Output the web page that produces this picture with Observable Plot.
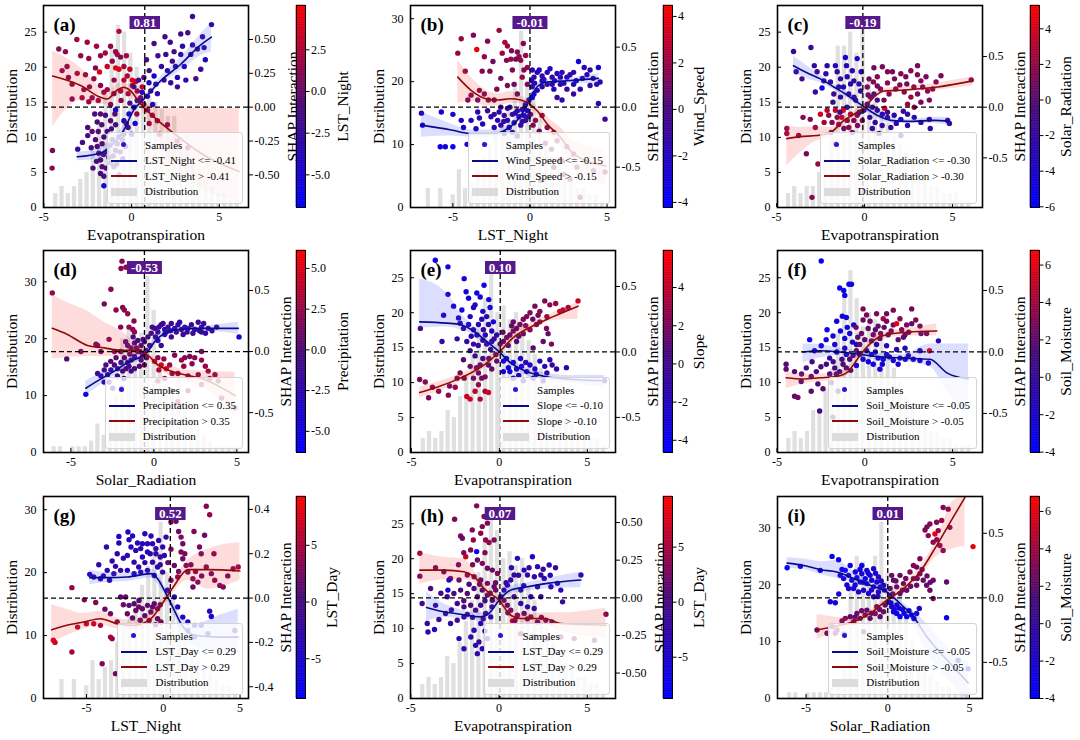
<!DOCTYPE html>
<html><head><meta charset="utf-8">
<script src="https://cdn.jsdelivr.net/npm/d3@7"></script>
<script src="https://cdn.jsdelivr.net/npm/@observablehq/plot@0.6"></script>
<style>
body{margin:0;background:#fff}
#root{position:relative;width:1080px;height:740px;background:#fff;overflow:hidden;font-family:"Liberation Serif","Times New Roman",serif}
.leg{position:absolute;background:rgba(255,255,255,0.8);border:1px solid #d4d4d4;border-radius:3px;padding:4px 6px 4px 3px;font:11px "Liberation Serif","Times New Roman",serif;color:#000}
.row{display:flex;align-items:center;height:15.5px;white-space:nowrap}
.h{width:26px;margin-right:8px;position:relative;height:15px;display:inline-block;flex:none}
.ln{position:absolute;left:0;right:0;top:7px;height:1.8px}
.bx{position:absolute;left:0;right:0;top:4px;height:8px;background:#dcdcdc}
.dot{position:absolute;left:10px;top:5px;width:5px;height:5px;border-radius:50%;background:#2a18d0}
</style>
</head><body><div id="root"></div>
<script>
// ---------------- DATA ----------------
const panelTags = ["(a)","(b)","(c)","(d)","(e)","(f)","(g)","(h)","(i)"];
const xLabels = ["Evapotranspiration","LST_Night","Evapotranspiration","Solar_Radiation","Evapotranspiration","Evapotranspiration","LST_Night","Evapotranspiration","Solar_Radiation"];
const colorLabels = ["LST_Night","Wind_Speed","Solar_Radiation","Precipitation","Slope","Soil_Moisture","LST_Day","LST_Day","Soil_Moisture"];
const thresholds = ["-0.41","-0.15","-0.30","0.35","-0.10","-0.05","0.29","0.29","-0.05"];
const badgeValues = ["0.81","-0.01","-0.19","-0.53","0.10",null,"0.52","0.07","0.01"];
const splitX = [0.75,0,-0.1,-0.57,0.05,null,0.46,0.05,0];
const xDomains = [[-5.02,6.66],[-7.75,5.55],[-4.95,6.7],[-6.65,5.7],[-5.05,6.6],[-4.97,6.7],[-7.8,5.55],[-5.02,6.6],[-6.75,5.8]];
const distDomains = [[0,28.8],[0,32.1],[0,28.8],[0,35.5],[0,28.9],[0,28.9],[0,32.1],[0,28.9],[0,35.5]];
const shapDomains = [[-0.741,0.751],[-0.836,0.847],[-0.99,1.004],[-0.826,0.827],[-0.768,0.775],[-0.818,0.825],[-0.453,0.458],[-0.669,0.673],[-0.78,0.785]];
const colorDomains = [[-6.96,5.16],[-4.22,4.47],[-6.04,5.31],[-6.3,6.1],[-4.64,5.94],[-4.02,6.78],[-8.5,9.3],[-8.75,9.6],[-4.0,6.8]];
const xTicks = [-5,0,5];
const distTicks = [[0,5,10,15,20,25],[0,10,20,30],[0,5,10,15,20,25],[0,10,20,30],[0,5,10,15,20,25],[0,5,10,15,20,25],[0,10,20,30],[0,5,10,15,20,25],[0,10,20,30]];
const shapTicks = [[-0.5,-0.25,0,0.25,0.5],[-0.5,0,0.5],[-0.5,0,0.5],[-0.5,0,0.5],[-0.5,0,0.5],[-0.5,0,0.5],[-0.4,-0.2,0,0.2,0.4],[-0.5,-0.25,0,0.25,0.5],[-0.5,0,0.5]];
const shapDecimals = [2,1,1,1,1,1,1,2,1];
const colorTicks = [[-5,-2.5,0,2.5],[-4,-2,0,2,4],[-6,-4,-2,0,2,4],[-5,-2.5,0,2.5,5],[-4,-2,0,2,4],[-4,-2,0,2,4,6],[-5,0,5],[-5,0,5],[-4,-2,0,2,4,6]];
const colorDecimals = [1,0,0,1,0,0,0,0,0];
const histRanges = [[-4.5,6.2],[-7.2,4.9],[-4.5,6.1],[-6.2,5.1],[-4.5,6.1],[-4.5,6.1],[-7.2,4.9],[-4.5,6.1],[-6.2,5.1]];
const histA = [2,3,2,3,4,5,8,12,16,23,26,25,22,20,18,16,15,14,13,13,10,8,6,5,4,3,2,2,1,1];
const histB = [0,3,0,3,0,2,6,3,4,6,8,10,12,14,16,20,28,20,18,14,10,8,6,5,4,3,3,2,2,1];
const histC = [2,3,2,3,3,5,7,10,23,23,25,22,26,18,15,14,12,10,9,8,6,5,4,3,3,2,2,2,1,1];
const histD = [1,1,0,1,1,1,2,5,3,6,10,20,22,18,21,31,25,14,12,10,13,8,6,4,3,2,1,1,1,1];
const histE = [2,3,2,3,6,5,8,11,14,18,22,26,20,21,19,20,19,16,14,12,10,8,6,5,4,3,3,2,2,1];
const histF = [2,3,2,3,6,6,9,12,17,23,26,22,18,20,19,16,14,12,10,8,6,5,4,3,3,2,2,1,1,1];
const histG = [0,3,0,3,0,2,6,3,5,6,9,11,13,16,18,21,24,28,20,16,12,10,8,6,5,4,3,2,2,1];
const histH = [2,3,2,3,6,5,8,11,14,18,23,26,24,20,21,19,20,16,14,12,10,8,6,5,4,3,3,2,2,1];
const histI = [1,1,0,1,1,1,1,2,3,5,20,25,24,22,25,31,22,20,18,14,10,8,6,4,3,2,2,1,1,1];

// samples: [x, SHAP interaction, colour feature value]
const pointsA = [[-4.15,.43,1.5],[-3.77,.41,1.5],[-3.12,.5,2],[-2.53,.48,2],[-.72,.56,2.5],[-3.96,.27,1.5],[-3.68,.3,1],[-3.1,.25,2],[-2.63,.24,1.5],[-2.44,.36,2],[-1.77,.38,1.5],[-1.83,.26,4],[-1.39,.3,3.5],[-.91,.41,1.5],[-.82,.39,2],[-1.1,.34,1.5],[-.63,.37,1],[-.44,.3,2],[-.91,.29,4],[-.72,.28,4],[-.25,.23,2.5],[.04,.2,4],[.23,.19,3],[.04,.16,2],[-.44,.2,3],[-2.06,.29,1],[-2.15,.21,1.5],[-3.39,.17,1],[-2.72,.13,1.5],[-3.39,.06,1],[-2.82,.07,2],[-2.25,.07,1],[-2.44,.04,1.5],[-1.77,.16,1],[-1.58,.11,1.5],[-1.39,.13,2],[-1.01,.1,1],[-.63,.12,2],[.32,.12,2],[.51,.07,1.5],[.7,.02,2],[.9,-.02,1],[1.18,-.06,1.5],[1.47,-.1,1],[2.04,-.13,1],[-4.51,-.32,1],[-4.53,-.45,1.5],[-1.2,.45,1.5],[-1.5,.4,2],[-.2,.1,2],[.3,-.05,2],[-.6,.05,1.5],
[-2.5,-.15,-1],[-2.5,-.21,-1.5],[-3.07,-.31,-2.5],[-2.25,-.18,0],[-2.06,-.24,-.5],[-1.96,-.29,-1],[-1.87,-.34,0],[-1.77,-.39,-1],[-1.68,-.44,-.5],[-1.77,-.49,-1.5],[-1.58,-.51,-1],[-1.39,-.33,-.5],[-1.3,-.37,-1],[-1.2,-.41,-2],[-1.01,-.44,-1],[-.91,-.32,-1.5],[-.82,-.27,-1],[-.72,-.22,-2],[-.91,-.13,-1],[-1.2,-.1,-.5],[-1.49,-.06,-1],[-1.77,-.05,-.5],[-1.96,-.11,-1],[-1.39,-.18,-1.5],[-1.58,-.22,-1],[-1.68,-.27,-.5],[-1.1,-.24,-1],[-.53,-.24,-2],[-.34,-.29,-2.5],[-1.58,-.58,-5],[-2.2,-.45,-1],[-.7,-.5,-1.5],[-.5,-.38,-2],[-2.8,-.26,-1.5],
[-.91,-.02,-5],[-.44,-.1,-4],[-.15,-.05,-4.5],[.13,0,-5],[.32,.05,-4],[.51,.05,-3.5],[.6,.11,-4],[.99,.18,-4.5],[1.28,.23,-5],[.2,-.12,-5],[0,-.2,-3],[-.2,-.15,-2],
[1.28,.47,-1],[1.95,.39,-2],[2.42,.41,-1],[2.8,.54,-1.5],[3.47,.67,-2],[4.55,.61,-3],[4.04,.52,-2],[3.47,.46,-2.5],[3.75,.43,-1],[4.13,.44,-3],[3.37,.39,-2],[2.8,.39,-3],[2.32,.34,-1.5],[2.04,.27,-3.5],[1.85,.2,-2],[2.61,.22,-4],[3.09,.2,-3],[3.66,.21,-1],[3.94,.28,-2],[2.23,.18,-3],[2.61,.15,-2],[1.38,.17,-2],[1.09,.12,-1.5],[1.47,.1,-3],[1,.27,-1],[.7,.22,-1],[.13,.15,-1],[1.7,.3,-2.5],[3,.3,-4],[4.2,.35,-4],[2.9,.45,-3],[2.2,.48,-2],
[-2.3,-.3,-1],[-2,-.4,-1.5],[-1.9,-.18,-.5],[-1.6,-.35,-1],[-1.45,-.45,-1.5],[-1.25,-.28,-1],[-1.05,-.36,-.5],[-.85,-.42,-1.5],[-.65,-.33,-1],[-.45,-.2,-1.5],[-.3,-.12,-1],[-1.15,-.16,-1],[-1.7,-.13,-.5],[-2.1,-.05,-1],[-.95,-.05,-.5],[-.1,.03,-1],[.4,.2,-1.5],[.85,.35,-1],[1.5,.38,-2],[1.9,.52,-1.5],[2.5,.3,-2.5],[3.2,.55,-1.5],[.9,.08,-3.5],[1.2,.02,-4],
[-2.9,.38,1.5],[-2,.45,2],[-1,.2,1.5],[-.3,.38,2],[-3.6,.22,1],[-2.4,.15,1],[-1.9,.05,1.5],[-1.2,.02,1],[.6,.15,2.5],[-.1,.28,3],[1,-.12,1.5],[1.6,-.2,1],[2.6,-.25,1.5],[3.2,-.3,1]];
const pointsB = [[-4.68,.45,2],[-4.46,.57,2],[-3.67,.6,1.5],[-3.45,.48,4],[-2.96,.42,2],[-2.75,.55,1.5],[-2,.64,2],[-1.63,.54,2.5],[-1.46,.51,2],[-.82,.46,1.5],[-.71,.42,2],[-.43,.53,1.5],[-.28,.43,2],[-.17,.33,2],[-.39,.31,1.5],[-.6,.39,2],[-.92,.4,1],[-1.24,.4,2],[-1.52,.39,1.5],[-1.14,.31,1.5],[-1.89,.24,1],[-2.15,.15,1.5],[-2.96,.11,1],[-2.7,.06,1.5],[-2.32,.06,1],[-3.39,.06,1],[-3.82,.1,1.5],[-4.03,.06,1],[-3.28,.14,1.5],[-.82,.11,1],[-.17,.19,1.5],[-1.03,.19,1],[-1.46,.18,1.5],[.04,-.06,1.5],[.36,-.11,2],[.79,-.07,1.5],[1.12,-.17,1],[1.55,-.21,2],[1.76,-.28,1.5],[2.4,-.33,1],[2.83,-.39,1.5],[1.97,-.44,2],[3.05,-.5,1.5],[4.12,-.53,1],[4.87,-.54,1.5],[1.55,-.5,1],[2.19,-.56,1.5],[.69,-.61,1],[3.26,-.75,1.5],
[-7.04,-.05,-2],[-6.97,-.15,-3],[-5.82,-.33,-3.5],[-5.49,-.33,-3],[-5,-.33,-3.5],[-5.75,-.04,-3],[-5,-.06,-2.5],[-4.46,-.11,-2],[-4.31,-.17,-3],[-4.08,-.31,-2.5],[-3.82,-.11,-2],[-3.5,-.18,-2.5],[-3.28,-.09,-1.5],[-3.07,-.14,-2],[-2.92,-.31,-1],[-2.53,-.08,-1.5],[-2.32,-.06,-1],[-2.1,-.11,-2],[-1.89,-.15,-1.5],[-1.67,-.07,-1],[-1.46,-.11,-2],[-1.35,-.17,-1.5],[-1.14,-.06,-1],[-1.03,-.13,-1.5],[-.82,-.03,-1],[-.71,-.08,-2],[-.6,-.15,-1],[-.39,-.07,-1.5],[-.28,-.11,-1],[-.17,-.03,-2],[-.06,.06,-1.5],[-1.89,0,-1],[-1.46,-.01,-1.5],[-2.75,-.03,-1],[-3.39,-.04,-2],[-2.32,-.17,-1.5],[-1.14,-.21,-1],[-1.67,-.22,-1.5],[-.82,-.24,-1],
[.15,.31,-2],[.26,.25,-1.5],[.47,.29,-2],[.79,.26,-1.5],[1.12,.29,-2],[1.44,.25,-1],[1.76,.28,-2],[2.08,.29,-1.5],[2.4,.25,-2],[2.83,.29,-1.5],[3.15,.38,-3],[3.52,.33,-2],[3.9,.31,-1.5],[4.44,.33,-3],[4.55,.21,-2],[4.33,.19,-1.5],[3.9,.18,-1],[3.26,.15,-1.5],[2.83,.19,-2],[2.4,.15,-1],[1.97,.19,-1.5],[1.55,.15,-2],[1.12,.19,-1],[.79,.17,-1.5],[.47,.14,-2],[.15,.17,-1.5],[.26,.11,-2.5],[.15,.08,-3.5],[1.76,.08,-1],[2.08,.06,-1.5],[2.83,.11,-1],[4.87,-.1,-1],[4.44,.03,-1.5],[.79,.22,-2],[1.44,.19,-1.5],[1.97,.25,-2],
[-1.3,0,-1],[-.95,-.05,-1.5],[-.5,-.02,-1],[-.3,.02,-2],[-.1,-.08,-1.5],[-1.7,-.12,-1],[-2,-.04,-1.5],[-.5,-.12,-1],[.1,.22,-2],[.3,.2,-1.5],[.6,.31,-2],[.9,.23,-1.5],[1.3,.32,-2],[1.6,.22,-1.5],[2.2,.2,-2],[2.6,.27,-1.5],[3,.22,-2],[3.4,.24,-1.5],[3.7,.27,-2],[4.1,.24,-1],[-2.6,.3,1.5],[-1.8,.45,2],[-1.2,.47,1.5],[-.5,.25,2],[-2.4,.38,1],[-3.1,.3,1.5],[-4.2,.3,2],[.2,-.15,1.5],[.6,-.2,1],[1,-.3,1.5],[1.4,-.35,1],[2.1,-.45,1.5],[2.6,-.6,1]];
const pointsC = [[-4.04,.55,-2],[-3.05,.59,-1.5],[-3.89,.35,-2],[-3.56,.28,-1],[-2.86,.41,-2],[-2.7,.35,-1.5],[-2.42,.19,-5],[-2.13,.41,-2.5],[-1.66,.41,-3],[-1.56,.35,-2],[-1.09,.49,-4.5],[-1.03,.41,-3],[-1.37,.28,-2],[-.99,.3,-2.5],[-.7,.36,-3],[-.42,.48,-4],[-.61,.26,-2],[-.32,.23,-2.5],[-.23,.16,-2],[-1.47,.2,-1.5],[-1.94,.25,-2],[-2.32,.26,-1.5],[-.9,.13,-2],[-.51,.07,-1],[-1.75,.13,-1.5],[-1.37,.1,-2],
[-4.42,-.21,2],[-4.42,-.26,2.5],[-3.75,-.28,1.5],[-3.31,-.46,1],[-3.09,-.12,1.5],[-2.99,-.89,1.5],[-2.65,-.56,2],[-2.51,-.07,4],[-2.13,-.03,3],[-2.04,-.08,2],[-1.85,-.15,1.5],[-1.66,-.03,3.5],[-1.56,-.1,2],[-1.22,-.03,4.5],[-1.47,-.17,1.5],[-1.18,-.21,1],[-1.66,-.36,.5],[-.99,-.13,2],[-.8,-.07,2.5],[-.61,-.13,1.5],[-.42,-.08,2],[-.13,-.13,1.5],[-.7,-.25,1],
[-.04,-.03,-1],[.15,.03,-1.5],[.34,.1,-1],[.53,.13,-.5],[.72,.07,-1],[.44,0,-1.5],[.72,-.03,-2],[1.01,-.07,-2.5],[1.3,-.1,-2],[1.68,-.08,-2.5],[2.06,-.12,-3],[2.44,-.07,-2],[2.82,-.1,-2.5],[3.2,-.15,-2],[3.68,-.12,-2.5],[3.73,-.21,-2],[4.72,-.13,-2.5],[4.82,-.16,-2],[2.06,-.28,-1.5],[.44,-.21,-2],[.82,-.26,-1.5],[1.49,-.2,-2],[2.44,-.18,-2.5],
[.53,.39,1],[.72,.3,1.5],[1.01,.4,1],[1.3,.35,1.5],[1.58,.35,1],[2.06,.33,1.5],[2.34,.3,1],[2.63,.36,1.5],[3.01,.41,1],[3.2,.26,1.5],[3.49,.3,1],[3.87,.18,2],[4.06,.25,1.5],[4.34,.31,1],[6.06,.27,1.5],[3.58,.16,1.5],[3.01,.13,1],[2.63,.1,2],[2.25,.15,1.5],[1.77,.18,1],[1.39,.13,1.5],[1.1,.07,1],[1.14,-.01,4.5],[2.44,.03,2],[2.82,0,1.5],[3.2,.05,1],[3.68,.07,1.5],[.72,.21,1],[.15,.2,1.5],[.25,.28,1],
[-1.8,.05,-1.5],[-1.4,-.05,-1],[-1,0,-1.5],[-.6,.1,-2],[-.3,-.05,-1.5],[.3,-.1,-2],[.6,-.15,-2.5],[1,-.18,-2],[1.3,-.05,-1.5],[1.8,-.16,-2.5],[2.2,-.04,-2],[-2.8,.15,-2],[-2.2,.33,-2.5],[-1.2,.2,-3],[-.8,.23,-2.5],[-.2,.35,-3],[.2,.12,1],[.5,.25,1.5],[.9,.18,1],[1.3,.24,1.5],[1.7,.28,1],[2,.22,1.5],[2.4,.23,1],[2.8,.2,1.5],[3.3,.2,1],[3,.32,1.5],[-2.3,-.15,2.5],[-1.9,-.25,1.5],[-1.3,-.1,3],[-.9,-.2,2],[-.4,-.18,1.5],[-2.8,-.2,2],[-3.5,-.1,1.5]];
const pointsD = [[-6.12,.48,2.5],[-1.92,.74,2],[-1.68,.69,2.5],[-1.98,.68,2],[-2.59,.51,2],[-2.99,.39,1.5],[-2.28,.34,2.5],[-1.88,.36,2],[-1.78,.34,2],[-1.58,.31,2.5],[-1.27,.18,2],[-1.17,.16,2.5],[-3.49,.06,1.5],[-3.19,0,1],[-2.38,0,1.5],[-4.4,0,1],[-5.25,-.06,0],[-3.39,.05,1],
[-1.58,.05,0],[-1.37,.03,.5],[-1.17,.07,0],[-.97,.09,-.5],[-.77,.05,.5],[-.57,.08,0],[-.36,.12,-.5],[-.16,.15,0],[-.97,0,1],[-1.17,-.04,0],[-1.37,-.07,-.5],[-1.58,-.09,0],[-1.78,-.05,.5],[-1.98,-.09,-.5],[-2.18,-.14,-1],[-2.38,-.11,0],[-2.59,-.15,-1],[-2.79,-.19,-1.5],[-2.99,-.15,-.5],[-3.19,-.2,-2],[-3.39,-.18,-1],[-2.89,-.11,0],[-2.28,-.05,.5],[-.67,-.03,1],[-.46,.01,0],[-.77,-.07,.5],[-.57,-.11,1],[-.87,-.12,0],[-1.88,-.16,-.5],[-1.68,-.14,0],[-1.37,-.16,-1],[-1.17,-.14,0],[-2.48,-.3,-3],[-1.94,-.3,-5],[-4.1,-.35,-5],
[.04,.19,-1],[.24,.16,-1.5],[.44,.22,-1],[.65,.18,-2],[.85,.2,-1.5],[1.05,.23,-1],[1.25,.19,-2],[1.45,.22,-1.5],[1.66,.18,-1],[1.86,.2,-2],[2.06,.19,-1.5],[2.26,.22,-1],[2.46,.18,-2],[2.67,.24,-1.5],[2.87,.2,-1],[3.11,.15,-2],[3.27,.19,-1.5],[3.78,.2,-1],[5.13,.12,-4],[.65,.14,-1.5],[1.05,.12,-1],[.24,.09,-2],[.44,.05,-1],[1.76,.14,-1.5],[2.87,.16,-2],
[.04,-.08,4],[.24,-.05,2],[.44,-.11,4],[.75,-.14,5],[.95,-.11,2.5],[1.25,-.03,2],[1.66,-.07,2.5],[1.86,-.05,2],[2.16,-.04,1.5],[2.46,-.05,2],[2.87,-.07,2.5],[2.87,0,1.5],[.24,-.24,3],[.65,-.22,2.5],[1.45,-.18,2],[2.06,-.2,2.5],[2.67,-.19,2],[3.27,-.16,2.5],[3.68,-.19,2],[3.37,-.22,2.5],[3.88,-.24,2],[2.87,-.27,2.5],[2.06,-.32,2],[1.45,-.41,2.5],[4.08,-.38,2],[4.89,-.46,2.5],[1.05,-.32,2],
[-2,0,.5],[-1.7,.08,0],[-1.45,-.02,.5],[-1.25,.12,0],[-1.05,.03,.5],[-.85,0,0],[-.65,.1,-.5],[-.45,-.05,.5],[-.25,.05,0],[-.1,.2,-1],[.1,.12,-1.5],[.3,.2,-1],[.55,.23,-1.5],[.75,.16,-2],[1,.17,-1.5],[1.35,.16,-1],[1.55,.24,-2],[2,.16,-1.5],[2.35,.15,-1],[2.75,.17,-1.5],[3,.23,-1],[3.5,.17,-1.5],[-2.6,-.08,0],[-2.2,-.2,-1],[-1.8,-.22,-1.5],[-1.5,-.12,-.5],[-2.7,-.25,-2],[-3,-.25,-2.5],[-1.2,.25,2],[-1.5,.2,2.5],[.3,-.15,3],[.6,-.06,2.5],[1.1,-.18,2],[1.8,-.12,2.5],[2.3,-.1,2],[3.1,-.12,2.5],[-2.7,.1,1.5],[-2,.2,2]];
const pointsE = [[-3.64,.7,-3.5],[-2.92,.65,-3],[-2.92,.44,-2.5],[-4.49,.18,0],[-3.17,.28,-2],[-3.26,.08,-1],[-2.32,.26,-2],[-2.13,.32,-3],[-2,.56,-3.5],[-1.89,.46,-3],[-1.75,.41,-3.5],[-1.47,.34,-2.5],[-1.28,.45,-3.5],[-1.09,.42,-3],[-.87,.51,-3.5],[-1.38,.36,-2],[-.94,.31,-2.5],[-.72,.27,-2],[-.53,.34,-3],[-1.66,.27,-2],[-2.23,.22,-1.5],[-2.04,.18,-1],[-1.75,.21,-2],[-1.47,.17,-1.5],[-1.19,.21,-2],[-.91,.17,-1],[-.62,.21,-1.5],[-.43,.16,-2],[-.34,.23,-3],[-.15,.13,-1.5],[-1.28,.13,-1],[-.94,.09,-.5],[-.72,.06,-1],[-.43,.08,-1.5],[-1.47,.06,-.5],[-1.85,.08,-1],[-1.66,.01,0],[-1.38,-.03,-.5],[-.94,-.05,0],
[-4.53,-.21,2],[-4.21,-.23,2.5],[-4.02,-.35,2],[-3.45,-.3,2.5],[-2.83,-.26,2],[-2.51,-.27,3],[-2.23,-.16,2],[-2,-.2,2.5],[-1.85,-.34,4.5],[-1.66,-.36,4.5],[-1.38,-.3,4],[-1.19,-.25,3],[-1.09,-.36,3.5],[-.81,-.3,3],[-.62,-.31,4.5],[-1.47,-.2,2],[-1.19,-.16,1.5],[-.81,-.19,2],[-.43,-.13,1.5],[-.62,-.1,1],[-.15,-.07,1.5],[-1.09,-.1,1],[-1.66,-.11,1.5],[-2.04,-.06,1],
[.04,.06,1.5],[.23,.08,1],[.42,.11,2],[.6,.13,1.5],[.79,.16,2],[.98,.18,1.5],[1.17,.21,2],[1.36,.25,2.5],[1.55,.27,2],[1.74,.3,2.5],[2.02,.35,2],[2.3,.31,2.5],[2.58,.39,2],[2.87,.36,2.5],[3.43,.31,4],[3.62,.32,3.5],[3.91,.34,3],[4.47,.39,4.5],[1.36,.14,1.5],[1.74,.17,2],[2.11,.21,1.5],[2.68,.18,2],[2.77,.14,1.5],[2.96,.06,2],[2.49,.08,1.5],[1.92,.03,1],[.98,.08,1],[.79,.23,1.5],[2.3,.23,2],
[.23,-.07,-3],[.51,-.12,-3.5],[.79,-.08,-3],[.98,-.13,-2.5],[1.26,-.11,-3],[1.55,-.15,-2],[1.74,-.1,-2.5],[2.02,-.13,-2],[2.3,-.07,-1.5],[2.58,-.11,-2],[2.87,-.06,-1.5],[3.25,-.13,-1],[3.81,-.12,-1.5],[5.98,-.22,0],[.79,-.2,-2.5],[1.36,-.22,-2],[1.92,-.2,-1.5],[2.49,-.22,-1],[.23,-.15,-3.5],
[-1.2,.05,-1],[-.8,.13,-1.5],[-.5,.02,-.5],[-.3,.1,-1],[-1.6,.12,-1.5],[-2.4,.1,-1],[-1,.25,-2],[-.6,.4,-3],[-2.6,.35,-2.5],[-.2,-.02,0],[-.6,-.05,1],[-1,-.2,2],[-1.3,-.12,1.5],[-2.4,-.2,2],[-2.9,-.33,2.5],[-3.8,-.27,2],[.2,.15,1.5],[.5,.05,1],[.7,.2,1.5],[1.1,.12,1],[1.5,.2,2],[1.9,.25,1.5],[2.2,.28,2],[2.7,.27,2.5],[3.2,.37,3],[.4,-.05,-3],[.6,-.15,-3],[1.1,-.18,-2.5],[1.5,-.08,-2],[2.1,-.17,-2],[2.7,-.16,-1.5],[3,-.1,-1],[1.2,-.05,-2.5]];
const pointsF = [[-2.48,.74,-3.5],[-1.43,.52,-3],[-1.2,.5,-3.5],[-1.14,.46,-3],[-.9,.55,-3.5],[-.76,.55,-3],[-1.28,.29,-3],[-1.05,.28,-2.5],[-.63,.22,-3],[-2.15,.18,-3],[-1.39,.17,-2.5],[-.86,.15,-2],[-3.14,.1,-3],[-1.81,.13,-2],[-1.14,.11,-2.5],[-1.71,.06,-2],[-2.48,.05,-2.5],[-2.86,.01,-2],[-1.14,.03,-1.5],[.1,.01,-1.5],[.38,-.02,-2],[.76,-.05,-2.5],[1.05,-.06,-2],[1.24,-.02,-1.5],[1.62,-.07,-2],[2,-.05,-2.5],[2.48,-.03,-1.5],[2.76,-.06,-2],[3.14,-.07,-2.5],[3.62,-.09,-2],[4.19,.09,-1.5],[.48,-.1,-3],[.86,-.14,-2.5],[-.1,-.06,-2],[.67,.06,-1],[1.24,.05,-1.5],[1.81,.02,-1],[2.29,.03,-1.5],[3.14,.01,-1],[-1.05,-.02,-1.5],[-.48,-.11,-2.5],[-.48,.06,-1],
[-4.48,-.1,1.5],[-4.48,-.14,2],[-4,-.16,1.5],[-4,-.36,2],[-3.81,-.37,2.5],[-3.62,-.24,1.5],[-3.33,-.13,1],[-3.05,-.2,1.5],[-3.05,-.32,2],[-2.76,-.16,1],[-2.67,-.26,1.5],[-2.57,-.48,1],[-2.38,-.3,2],[-2.19,-.1,.5],[-2,-.18,1],[-1.9,-.25,1.5],[-1.71,-.13,1],[-1.62,-.18,1.5],[-1.43,-.16,1],[-1.24,-.1,1.5],[-1.05,-.13,2],[-.86,-.06,1.5],[-.67,-.03,2],[-.48,.01,2.5],[-.29,.06,2],[-.19,.15,2.5],[-.1,.35,3],[-.1,.26,2.5],[.19,.19,2],[.48,.14,2.5],[.76,.21,2],[1.05,.27,4],[1.24,.25,3],[1.62,.22,2.5],[1.81,.23,6],[2.1,.18,2.5],[2.38,.22,3],[2.67,.35,2.5],[2.67,.23,2],[3.14,.21,2.5],[3.52,.15,2],[3.68,.01,6],[.38,.09,1.5],[.86,.11,2],[1.33,.14,1.5],[1.9,.1,2],[2.29,.14,1.5],[.67,.31,3],[1.24,.31,2.5],[1.62,.34,3],[-1.52,-.32,1.5],[-1.81,-.53,1],
[-1,.2,-3],[-1.6,.25,-3],[-.7,.08,-2],[-.3,-.02,-2],[.2,-.08,-2.5],[.6,0,-1.5],[1,-.1,-2.5],[1.4,-.04,-2],[1.9,-.1,-2],[2.3,-.06,-1.5],[-2.2,.1,-2.5],[-1.6,0,-2],[-2,-.05,-1],[-1.3,-.06,1],[-.8,-.15,1.5],[-1.8,-.08,1],[-2.5,-.12,1.5],[-3,-.08,1],[-3.6,-.18,2],[-.4,.12,2],[0,.1,2],[.3,.25,2.5],[.6,.18,2],[.9,.15,2.5],[1.1,.2,2],[1.5,.17,2.5],[2,.27,3],[2.2,.12,2],[2.5,.16,2.5],[2.9,.26,3],[3.2,.15,2],[.1,.3,3],[-.5,.2,2.5]];
const pointsG = [[-4.79,.107,-4],[-4.53,.095,-3],[-4.09,.087,-3.5],[-3.7,.23,-3],[-3.33,.167,-2],[-3.11,.143,-3],[-2.89,.278,-6],[-2.89,.248,-4],[-2.3,.298,-4],[-2.23,.263,-3],[-2.34,.192,-2],[-1.79,.215,-3],[-1.68,.248,-4],[-1.47,.223,-3],[-1.36,.245,-4],[-1.03,.245,-3],[-.7,.245,-4],[-.48,.223,-3],[-.48,.2,-2],[-1.03,.208,-3],[-1.36,.185,-4],[-1.9,.162,-3],[-2.78,.125,-2],[-3.65,.125,-3],[-3.22,.11,-2],[-2.34,.125,-3],[-1.9,.11,-4],[-1.47,.117,-3],[-1.03,.125,-2],[-.7,.162,-3],[-.2,.185,-2],[.07,.192,-3],[-.37,.14,-4],[-.59,.102,-3],[-.04,.117,-2],[.18,.275,-2],[-.04,.23,-3],[.28,.035,-4],[.72,.005,-3],[.94,-.04,-4],[1.27,-.086,-5],[1.6,-.108,-4],[2.04,-.123,-3],[2.47,-.123,-4],[3.13,-.083,-5],[3.02,-.059,-4],[1.6,-.146,-3],[2.91,-.161,-2],[2.04,-.176,-3],[4.66,-.146,-2],
[-7.16,-.19,8],[-7.05,-.2,7],[-5.95,-.243,5],[-5.95,.047,4],[-5.58,-.131,6],[-5.01,-.116,6],[-5.14,-.008,3],[-4.53,-.116,6],[-4.09,-.123,5],[-3.98,-.296,3],[-3.44,-.176,5],[-3.33,-.183,4],[-3.11,-.341,2],[-3.44,-.071,2],[-3,-.108,3],[-2.78,.005,1],[-2.45,.005,2],[-2.23,-.033,1],[-2.34,-.071,2],[-1.9,-.026,1],[-1.79,-.056,2],[-1.58,-.011,1],[-1.36,-.048,2],[-1.03,-.033,1],[-.81,-.063,2],[-.59,-.026,1],[-.37,-.048,2],[-.92,-.101,3],[-.37,-.093,2],[-.15,-.108,3],
[.5,.343,3],[.83,.346,2],[1.16,.275,3],[1.27,.245,2],[1.16,.208,3],[1.27,.177,2],[1.49,.147,3],[1.6,.117,2],[1.93,.087,3],[2.25,.072,2],[2.8,.414,3],[3.02,.376,4],[2.69,.283,2],[2.36,.23,3],[2.47,.2,2],[2.8,.14,3],[3.13,.11,2],[3.35,.08,3],[3.68,.057,2],[3.9,.05,3],[4.88,.14,4],[4.55,.132,3],[.72,.147,2],[.94,.095,3],[.5,.08,2],[1.93,.05,2],
[-4.2,.15,-3],[-3.9,.1,-2.5],[-3.5,.08,-3],[-3,.2,-3.5],[-2.6,.18,-3],[-2.1,.23,-4],[-1.6,.14,-3],[-1.2,.16,-3.5],[-.85,.2,-4],[-.3,.26,-3],[-.2,.15,-2],[-2,.28,-4],[-1.2,.29,-4],[-.8,.28,-3],[-2.6,-.03,2],[-2,-.09,1.5],[-1.6,-.04,2],[-1.2,-.08,1],[-.7,-.04,2],[-.2,-.03,1],[-.5,-.12,3],[-1.5,-.1,2],[-3.8,-.05,2],[-4.4,-.02,3],[1,.12,2],[1.4,.2,3],[1.8,.15,2],[2.1,.12,3],[2.5,.1,2],[2,.3,3],[1,.3,2],[3.3,.2,3],[4.2,.1,2],[.3,.16,2],[.5,.22,3]];
const pointsH = [[-4.49,.296,5],[-4.49,.144,3],[-2.52,.522,3],[-2.18,.411,3],[-2.08,.396,2],[-1.89,.273,7],[-1.52,.451,3],[-1.46,.384,4],[-1.27,.611,3],[-1.04,.429,4],[-.95,.473,3],[-.85,.54,3],[-.76,.384,4],[-.66,.496,3],[-.57,.367,4],[-.28,.384,3],[-1.61,.318,3],[-1.23,.251,2],[-.95,.229,3],[-.66,.196,2],[-.38,.184,2],[-.09,.162,3],[-3.13,.173,2],[-2.75,.129,3],[-2.27,.118,2],[-1.8,.151,3],[-1.42,.14,2],[-1.04,.118,2],[-.66,.096,3],[-.28,.073,2],[-.19,.051,2],
[.28,-.016,3],[.47,-.049,2],[.66,-.082,3],[.76,-.153,7],[1.04,-.116,3],[1.42,-.104,2],[1.8,-.127,3],[2.18,-.16,2],[2.65,-.149,3],[6.06,-.109,3],[1.23,-.238,3],[1.99,-.26,2],[2.75,-.271,3],[3.5,-.26,2],[4.26,-.271,3],[5.4,-.282,2],
[-2.18,.051,0],[-1.8,.029,1],[-1.42,.062,0],[-1.23,.007,1],[-.95,.051,0],[-.66,.018,1],[-.38,-.016,0],[-2.94,.007,-1],[-2.56,.029,0],[-2.37,-.038,-1],[-1.99,-.06,0],[-1.61,-.049,1],[-1.33,-.082,0],[-1.04,-.049,-1],[-.76,-.104,0],[-2.37,-.149,-1],[-1.99,-.127,-2],[-3.03,-.104,-1],[-2.75,-.171,-2],[-3.41,-.144,-1],[-4.07,-.171,-2],[-4.36,-.038,-1],[-3.88,.062,0],
[-4.03,-.227,-3],[-3.66,-.211,-4],[-2.9,.051,-6],[-2.84,.118,-5],[-1.27,.307,-7],[-2.27,-.271,-4],[-1.99,-.338,-3],[-1.33,-.316,-4],[-1.23,-.371,-3],[-.95,-.338,-4],[-.66,-.271,-3],[-1.14,-.293,-2],[-1.42,-.216,-3],[-1.04,-.171,-4],[-.47,-.127,-3],
[.09,.007,-3],[.28,.051,-2],[.47,.084,-4],[.66,.118,-3],[.85,.151,-2],[1.04,.262,-3],[1.42,.184,-4],[1.61,.151,-3],[1.89,.273,-5],[2.18,.207,-3],[2.37,.151,-2],[2.56,.129,-3],[2.84,.218,-4],[2.94,.073,-3],[3.31,.096,-2],[3.5,.051,-3],[3.6,-.027,-2],[4.64,.151,-3],[1.23,.051,-2],[1.8,.007,-3],[2.18,.073,-2],[.85,.007,-1],[1.23,-.038,-2],[1.61,-.06,-3],[2.37,.007,-2],[1.99,-.071,-1],
[-3.6,-.05,-1],[-3.3,.03,0],[-2,-.02,1],[-1.7,.09,0],[-1.1,.09,1],[-.8,-.02,0],[-.5,.03,1],[-.2,.1,2],[-2.7,-.08,-1],[-1.8,-.11,0],[-1.5,-.13,-1],[-.9,-.14,0],[-.4,-.06,-1],[-2.3,.22,2],[-1.5,.22,3],[-.8,.3,3],[-2,.3,3],[-3.6,.2,2],[.4,.1,-2],[.7,.2,-3],[1.1,.15,-2],[1.4,.08,-3],[1.7,.2,-2],[2,.14,-3],[2.5,.19,-2],[2.9,.15,-3],[3.2,.2,-2],[.5,-.1,2],[.9,-.15,3],[1.6,-.14,2],[2.4,-.13,3],[3,-.16,2],[-1.6,-.26,-3],[-.8,-.22,-3]];
const pointsI = [[-6.16,.233,-3.5],[-5.35,.244,-3],[-4.13,.213,-3.5],[-3.41,.321,-3.5],[-3.01,.295,-3],[-3.52,-.031,-2.5],[-3.21,-.038,-3],[-2.91,.174,-3],[-2.7,.149,-2.5],[-2.6,.213,-3],[-2.4,.174,-2],[-2.3,.251,-3],[-2.2,.136,-2.5],[-1.99,.2,-2],[-1.89,.156,-3],[-1.69,.123,-2.5],[-1.59,.187,-2],[-1.38,.149,-3],[-1.28,.11,-2],[-1.08,.174,-2.5],[-.98,.136,-2],[-.87,.085,-1.5],[-.67,.123,-2],[-.57,.162,-1.5],[-.47,.085,-1],[-.26,.097,-1.5],[-2.4,.072,-2],[-2.09,.072,-2.5],[-1.79,.046,-2],[-1.48,.059,-1.5],[-1.18,.033,-2],[-.87,.008,-1],[-.57,.046,-1.5],[-1.28,.213,-2.5],[-.87,.226,-2],[-1.59,.251,-3],
[.04,-.031,-2],[.24,-.069,-2.5],[.35,-.108,-3],[.55,-.121,-3.5],[.75,-.146,-3],[1.16,-.146,-3.5],[1.46,-.133,-3],[1.77,-.121,-2.5],[1.93,-.082,-2],[3.6,-.154,-3],[.91,-.09,-2.5],[.55,-.056,-2],[4.31,-.485,-3],[4.92,-.549,-2.5],
[-4.33,-.249,2],[-2.66,-.282,-1],[-3.41,-.223,2.5],[-3.11,-.249,2],[-2.6,-.159,2.5],[-2.3,-.146,2],[-2.09,-.185,3],[-1.69,-.159,2],[-1.38,-.133,2.5],[-1.08,-.159,2],[-.77,-.121,3],[-.47,-.146,2],[-.26,-.108,2.5],[-.16,-.056,2],[-.67,-.069,2.5],[-1.28,-.095,2],[-1.89,-.121,2.5],[-3.72,-.274,2],[-3.21,-.274,2.5],[-1.48,-.262,2],
[.14,.072,2],[.24,.174,2.5],[.35,.136,2],[.55,.085,2.5],[.75,.174,2],[.96,.11,2.5],[1.16,.059,2],[1.36,.2,3],[1.57,.149,2],[1.77,.097,2.5],[1.97,.187,2],[2.17,.136,2.5],[2.38,.097,2],[2.58,.059,2.5],[1.97,.303,3],[1.77,.238,2.5],[1.57,.251,3],[.75,.033,2],[.14,.008,2],[2.78,-.005,2.5],[2.28,.526,3],[2.48,.482,3.5],[2.58,.572,3],[2.89,.495,6],[3.09,.521,3.5],[3.19,.405,3],[3.39,.7,3],[3.7,.687,3.5],[3.8,.546,3],[2.99,.585,3],[2.78,.431,3.5],[3.39,.367,3],[3.6,.123,2],[2.78,.136,2.5],[5.22,.397,6],
[-2,.1,-2.5],[-1.7,.22,-3],[-1.5,.12,-2],[-1.2,.19,-2.5],[-.75,.19,-2],[-.4,.13,-1.5],[-.2,.06,-1],[-2.5,.1,-2.5],[-2.8,.22,-3],[-1,.06,-1.5],[-.6,.01,-1],[-3,.03,-2],[.2,-.04,-2.5],[.4,-.09,-2],[.7,-.08,-3],[1,-.12,-2.5],[1.3,-.1,-3],[1.6,-.16,-2.5],[.3,.03,2],[.5,.13,2.5],[.9,.06,2],[1.1,.15,2.5],[1.4,.09,2],[1.8,.15,2.5],[2.1,.22,2],[2.4,.17,2.5],[2.6,.12,2],[-.5,-.09,2.5],[-1,-.12,2],[-1.6,-.1,2.5],[-2,-.15,2],[-2.8,-.18,2.5],[3,.45,3],[3.3,.6,3.5],[2.4,.55,3]];

// fitted curves: [x, fit, lower, upper]
const blueA = [[-3.1,-.366,-.395,-.335],[-1.8,-.34,-.38,-.3],[-1.2,-.29,-.335,-.245],[-.45,-.17,-.205,-.135],[.13,-.02,-.045,.005],[.7,.06,.04,.08],[1.66,.195,.165,.225],[2.8,.317,.27,.365],[3.94,.46,.38,.54],[4.55,.517,.41,.62]];
const redA = [[-4.5,.23,-.146,.415],[-2.91,.16,.05,.29],[-1.77,.073,.02,.14],[-1.39,.06,.02,.1],[-.82,.127,.09,.17],[-.44,.146,.11,.18],[-.06,.12,.08,.16],[.51,.024,-.01,.06],[1.28,-.073,-.2,0],[2.42,-.195,-.45,-.01],[3.94,-.34,-.6,-.01],[6.13,-.476,-.7,-.01]];
const blueB = [[-7.04,-.15,-.25,-.04],[-5.11,-.19,-.24,-.14],[-3.82,-.22,-.25,-.19],[-2.32,-.22,-.25,-.19],[-1.46,-.18,-.21,-.15],[-.82,-.11,-.14,-.08],[-.39,-.03,-.06,0],[0,.07,.04,.1],[.47,.17,.14,.2],[1.12,.21,.19,.23],[2.4,.22,.2,.24],[4.44,.24,.19,.28]];
const redB = [[-4.68,.25,.03,.39],[-3.82,.14,.05,.25],[-2.85,.07,.01,.14],[-2.1,.06,.01,.11],[-1.24,.07,.03,.13],[-.6,.06,.03,.09],[-.06,.03,0,.06],[.47,-.03,-.07,.01],[1.12,-.14,-.2,-.08],[1.97,-.25,-.33,-.17],[2.83,-.39,-.5,-.28],[4.94,-.49,-.65,-.35]];
const blueC = [[-4.04,.41,.35,.5],[-3.28,.34,.28,.41],[-2.51,.28,.24,.32],[-1.75,.2,.17,.23],[-.99,.12,.09,.15],[-.42,.05,.02,.08],[0,0,-.03,.03],[.72,-.08,-.11,-.05],[1.49,-.13,-.16,-.1],[2.44,-.14,-.16,-.12],[3.96,-.13,-.16,-.1],[4.82,-.14,-.18,-.1]];
const redC = [[-4.42,-.31,-.58,-.18],[-3.66,-.29,-.45,-.2],[-2.7,-.28,-.33,-.19],[-1.94,-.25,-.3,-.2],[-1.18,-.13,-.17,-.09],[-.61,-.07,-.1,-.04],[0,0,-.03,.03],[.53,.1,.07,.13],[1.1,.16,.13,.19],[2.25,.17,.15,.2],[4.15,.2,.17,.24],[6.15,.26,.21,.3]];
const blueD = [[-4.1,-.3,-.36,-.24],[-3.39,-.24,-.29,-.19],[-2.38,-.16,-.2,-.12],[-1.58,-.09,-.12,-.06],[-.77,-.04,-.07,-.01],[-.36,0,-.03,.03],[.04,.08,.05,.11],[.65,.15,.12,.18],[1.45,.18,.16,.2],[2.87,.19,.17,.21],[5.09,.19,.14,.24]];
const redD = [[-6.12,.19,-.06,.46],[-5.21,.14,-.05,.4],[-4,.05,-.04,.33],[-2.99,.03,-.04,.24],[-1.98,.01,-.04,.17],[-.97,.01,-.03,.05],[-.36,-.03,-.06,0],[.24,-.11,-.14,-.08],[.85,-.15,-.19,-.11],[1.86,-.19,-.24,-.15],[2.87,-.22,-.29,-.16],[4.89,-.36,-.52,-.17]];
const blueE = [[-4.53,.23,.18,.56],[-2.98,.22,.19,.45],[-2.23,.21,.17,.3],[-1.47,.16,.13,.2],[-.72,.08,.05,.11],[0,0,-.03,.03],[.6,-.08,-.11,-.05],[1.55,-.15,-.18,-.12],[2.68,-.19,-.22,-.16],[4.19,-.21,-.24,-.18],[5.98,-.22,-.27,-.18]];
const redE = [[-4.53,-.31,-.35,-.27],[-3.55,-.27,-.31,-.23],[-2.23,-.2,-.23,-.17],[-1.09,-.12,-.15,-.09],[0,0,-.03,.03],[.79,.11,.08,.14],[1.92,.2,.17,.23],[3.06,.27,.24,.3],[4.47,.35,.25,.38]];
const blueF = [[-3.52,0,-.09,.065],[-2.57,.01,-.05,.06],[-1.43,0,-.03,.03],[-.29,-.02,-.05,.01],[.86,-.04,-.07,-.01],[2.19,-.05,-.08,-.02],[3.71,-.06,-.12,.065],[4.67,-.17,-.32,.065],[5.9,-.22,-.55,.065]];
const redF = [[-4.48,-.21,-.3,-.16],[-3.52,-.22,-.26,-.18],[-2.57,-.21,-.24,-.18],[-1.62,-.2,-.23,-.17],[-.95,-.16,-.19,-.13],[-.48,-.07,-.1,-.04],[0,.02,-.01,.05],[.57,.1,.07,.13],[1.24,.14,.11,.17],[2.38,.16,.13,.19],[4.1,.17,.13,.23]];
const blueG = [[-4.79,.092,.06,.125],[-3.65,.092,.07,.115],[-2.34,.095,.075,.115],[-.81,.11,.09,.13],[-.37,.087,.065,.11],[.07,.035,.015,.055],[.72,-.056,-.08,-.03],[1.16,-.116,-.15,-.08],[2.04,-.168,-.22,-.12],[3.57,-.176,-.24,-.08],[4.88,-.176,-.25,-.05]];
const redG = [[-7.27,-.143,-.2,-.03],[-6.28,-.123,-.17,-.05],[-5.19,-.108,-.14,-.07],[-4.09,-.093,-.12,-.06],[-3,-.116,-.14,-.09],[-1.9,-.123,-.145,-.1],[-.81,-.093,-.115,-.07],[.07,-.011,-.035,.013],[.72,.057,.03,.085],[1.6,.128,.08,.17],[2.91,.128,.04,.22],[4.99,.122,.08,.25]];
const blueH = [[-4.11,-.064,-.16,.04],[-3.13,-.093,-.13,-.04],[-2.18,-.109,-.14,-.08],[-1.04,-.127,-.155,-.1],[-.57,-.104,-.13,-.08],[0,-.016,-.04,.01],[.66,.051,.025,.077],[1.61,.073,.045,.1],[2.75,.096,.06,.13],[4.64,.118,.067,.171]];
const redH = [[-4.49,.184,.09,.3],[-3.13,.184,.12,.27],[-1.99,.173,.12,.26],[-1.42,.14,.1,.18],[-.85,.062,.03,.09],[0,-.016,-.04,.01],[.66,-.116,-.14,-.09],[1.23,-.138,-.165,-.11],[2.56,-.138,-.18,-.1],[3.5,-.171,-.22,-.1],[6.06,-.182,-.27,-.07]];
const blueI = [[-6.16,.269,.23,.31],[-5.14,.251,.22,.3],[-4.13,.218,.18,.28],[-3.11,.2,.15,.29],[-2.09,.149,.12,.2],[-1.08,.097,.07,.125],[-.06,.046,.02,.07],[.75,-.044,-.07,-.02],[1.57,-.146,-.2,-.1],[2.38,-.3,-.42,-.2],[3.8,-.505,-.65,-.4],[4.92,-.659,-.8,-.5]];
const redI = [[-4.33,-.249,-.32,-.13],[-3.11,-.218,-.26,-.15],[-2.09,-.185,-.21,-.16],[-1.08,-.121,-.145,-.1],[-.06,-.018,-.04,.005],[.96,.072,.045,.1],[1.97,.2,.16,.24],[2.99,.405,.32,.45],[4,.623,.38,.75],[4.72,.777,.4,.79]];

const histCounts = [histA,histB,histC,histD,histE,histF,histG,histH,histI];
const samples = [pointsA,pointsB,pointsC,pointsD,pointsE,pointsF,pointsG,pointsH,pointsI];
const blueFits = [blueA,blueB,blueC,blueD,blueE,blueF,blueG,blueH,blueI];
const redFits = [redA,redB,redC,redD,redE,redF,redG,redH,redI];

// ---------------- LAYOUT / DRAW ----------------
const ML = 43, MT = 5, IW = 205, IH = 202, MB = 37;
const colLeft = [0, 367, 734], rowTop = [0, 245, 491];
const FONT = "Liberation Serif, Times New Roman, serif";
const cmap = d3.piecewise(d3.interpolateRgb, ["#0000ff", "#4a0c7a", "#ff0000"]);
const BLUE_LINE = "#0a0a8c", RED_LINE = "#8e0b0b", BADGE = "#55198b";
const root = document.getElementById("root");
const baseStyle = {fontFamily: FONT, fontSize: "12px", background: "transparent", color: "black", overflow: "visible"};

function place(el, left, top) {
  el.style.position = "absolute"; el.style.left = left + "px"; el.style.top = top + "px";
  root.appendChild(el);
}
function fmt(dec) { return d => (Math.abs(d) < 1e-9 ? 0 : d).toFixed(dec); }
function badgeWidth(s) { let w = 6; for (const ch of s) w += ch === "." ? 3.5 : ch === "-" ? 4.5 : 7; return w; }

for (let i = 0; i < 9; i++) {
  const L = colLeft[i % 3], T = rowTop[Math.floor(i / 3)];
  const [lo, hi] = histRanges[i];
  const counts = histCounts[i];
  const bw = (hi - lo) / counts.length;
  const bins = counts.map((n, k) => ({x1: lo + k * bw, x2: lo + (k + 1) * bw, n}));

  const hist = Plot.plot({
    width: ML + IW + 5, height: MT + IH + MB,
    marginLeft: ML, marginRight: 5, marginTop: MT, marginBottom: MB,
    x: {domain: xDomains[i]}, y: {domain: distDomains[i]},
    style: baseStyle,
    marks: [
      Plot.rectY(bins, {x1: "x1", x2: "x2", y: "n", fill: "#e0e0e0", insetLeft: 1, insetRight: 1}),
      Plot.axisX({ticks: xTicks, tickSize: 0, tickPadding: 5, label: null, tickFormat: d => String(d)}),
      Plot.axisY({ticks: distTicks[i], tickSize: 0, tickPadding: 7, label: null, tickFormat: d => String(d)}),
      Plot.tickX(xTicks, {x: d => d, insetTop: IH - 4, stroke: "black"}),
      Plot.tickY(distTicks[i], {y: d => d, insetRight: IW - 4, stroke: "black"}),
      Plot.text([xLabels[i]], {text: d => d, frameAnchor: "bottom", dy: 28, fontSize: 15.5, textAnchor: "middle", lineAnchor: "middle"}),
      Plot.text(["Distribution"], {text: d => d, frameAnchor: "left", dx: -31, rotate: -90, fontSize: 15.5, textAnchor: "middle", lineAnchor: "middle"})
    ]
  });
  place(hist, L, T);

  const marks = [
    Plot.dot(samples[i], {x: d => d[0], y: d => d[1], fill: d => d[2], r: 2.7}),
    Plot.areaY(blueFits[i], {x: d => d[0], y1: d => d[2], y2: d => d[3], fill: "#2a3cff", fillOpacity: 0.17, curve: "monotone-x", clip: true}),
    Plot.areaY(redFits[i], {x: d => d[0], y1: d => d[2], y2: d => d[3], fill: "#ff3030", fillOpacity: 0.17, curve: "monotone-x", clip: true}),
    Plot.line(blueFits[i], {x: d => d[0], y: d => d[1], stroke: BLUE_LINE, strokeWidth: 1.6, curve: "monotone-x", clip: true}),
    Plot.line(redFits[i], {x: d => d[0], y: d => d[1], stroke: RED_LINE, strokeWidth: 1.6, curve: "monotone-x", clip: true}),
    Plot.ruleY([0], {stroke: "black", strokeDasharray: "5,3", strokeWidth: 1.3})
  ];
  if (splitX[i] != null) {
    marks.push(Plot.ruleX([splitX[i]], {stroke: "black", strokeDasharray: "5,3", strokeWidth: 1.3}));
  }
  if (badgeValues[i] != null) {
    marks.push(Plot.tickX([splitX[i]], {x: d => d, stroke: BADGE, strokeWidth: badgeWidth(badgeValues[i]), insetTop: 11, insetBottom: IH - 24}));
    marks.push(Plot.text([badgeValues[i]], {x: () => splitX[i], text: d => d, frameAnchor: "top", dy: 17.5, fill: "white", fontWeight: "bold", fontSize: 13, textAnchor: "middle", lineAnchor: "middle"}));
  }
  marks.push(
    Plot.axisY({anchor: "right", ticks: shapTicks[i], tickFormat: fmt(shapDecimals[i]), tickSize: 4, tickPadding: 2, label: null}),
    Plot.frame({stroke: "black", strokeWidth: 1.6}),
    Plot.text([panelTags[i]], {text: d => d, frameAnchor: "top-left", dx: 10, dy: 19, fontSize: 19, fontWeight: "bold", textAnchor: "start", lineAnchor: "middle"}),
    Plot.text(["SHAP Interaction"], {text: d => d, frameAnchor: "right", dx: shapDecimals[i] === 2 ? 45 : 38, rotate: -90, fontSize: 15.5, textAnchor: "middle", lineAnchor: "middle"})
  );
  const sc = Plot.plot({
    width: ML + IW + 62, height: MT + IH + MB,
    marginLeft: ML, marginRight: 62, marginTop: MT, marginBottom: MB,
    x: {domain: xDomains[i], axis: null}, y: {domain: shapDomains[i]},
    color: {type: "linear", domain: colorDomains[i], interpolate: cmap},
    style: baseStyle,
    marks
  });
  place(sc, L, T);

  const [c0, c1] = colorDomains[i];
  const steps = d3.range(120).map(k => [c0 + (c1 - c0) * k / 120, c0 + (c1 - c0) * (k + 1) / 120]);
  const cb = Plot.plot({
    width: 9 + 60, height: MT + IH + MB,
    marginLeft: 0, marginRight: 60, marginTop: MT, marginBottom: MB,
    x: {domain: [0, 1], axis: null}, y: {domain: [c0, c1]},
    color: {type: "linear", domain: [c0, c1], interpolate: cmap},
    style: baseStyle,
    marks: [
      Plot.rect(steps, {x1: () => 0, x2: () => 1, y1: d => d[0], y2: d => d[1], fill: d => (d[0] + d[1]) / 2, stroke: d => (d[0] + d[1]) / 2, strokeWidth: 0.6}),
      Plot.frame({stroke: "black", strokeWidth: 1}),
      Plot.axisY({anchor: "right", ticks: colorTicks[i], tickFormat: fmt(colorDecimals[i]), tickSize: 3.5, tickPadding: 2, label: null}),
      Plot.text([colorLabels[i]], {text: d => d, frameAnchor: "right", dx: colorDecimals[i] ? 38 : 27, rotate: -90, fontSize: 15.5, textAnchor: "middle", lineAnchor: "middle"})
    ]
  });
  place(cb, L + ML + IW + 48, T);

  const leg = document.createElement("div");
  leg.className = "leg";
  const feat = colorLabels[i], thr = thresholds[i];
  const rows = [
    ['<span class="dot"></span>', "Samples"],
    [`<span class="ln" style="background:${BLUE_LINE}"></span>`, `${feat} &lt;= ${thr}`],
    [`<span class="ln" style="background:${RED_LINE}"></span>`, `${feat} &gt; ${thr}`],
    ['<span class="bx"></span>', "Distribution"]
  ];
  leg.innerHTML = rows.map(([h, t]) => `<div class="row"><span class="h">${h}</span>${t}</div>`).join("");
  leg.style.right = (1080 - (L + ML + IW - 5)) + "px";
  leg.style.bottom = (740 - (T + MT + IH - 3)) + "px";
  root.appendChild(leg);
}
</script>
</body></html>
